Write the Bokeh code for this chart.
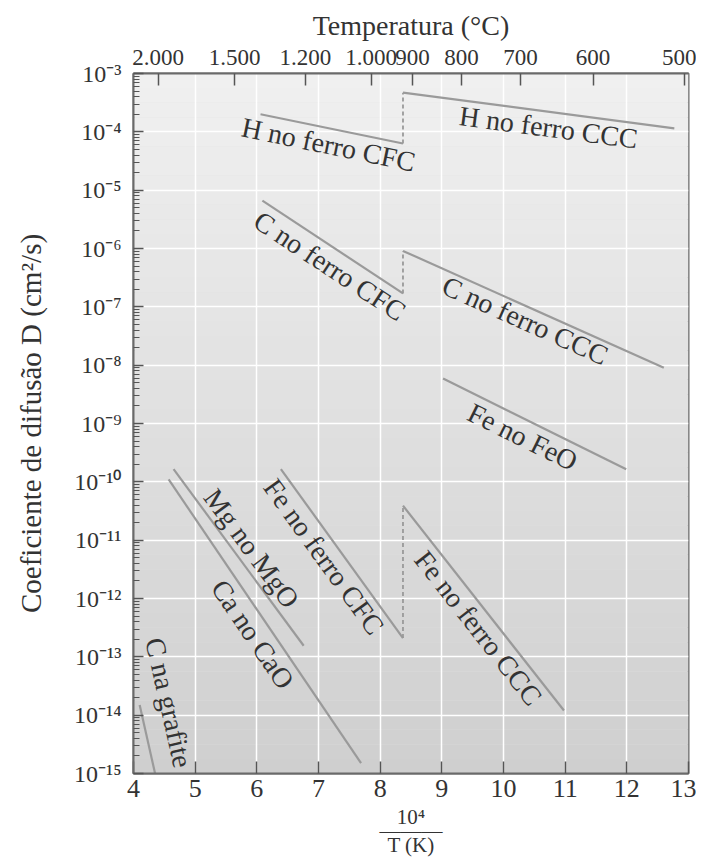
import math
from bokeh.plotting import figure
from bokeh.models import (ColumnDataSource, LinearAxis, FixedTicker, CustomJSTickFormatter,
                          Range1d)
from bokeh.core.properties import value
from bokeh.embed import file_html
from bokeh.resources import INLINE

# ---- data (x = 10^4 / T(K), D in cm^2/s) ----
series_names = ["H no ferro CFC", "H no ferro CCC", "C no ferro CFC", "C no ferro CCC",
                "Fe no FeO", "Fe no ferro CFC", "Fe no ferro CCC", "Mg no MgO",
                "Ca no CaO", "C na grafite"]
x_start = [6.06, 8.37, 6.09, 8.37, 9.02, 6.39, 8.37, 4.65, 4.57, 4.10]
x_end = [8.37, 12.77, 8.37, 12.60, 11.99, 8.37, 10.98, 6.76, 7.69, 4.35]
d_start = [2.0e-4, 4.7e-4, 6.6e-6, 9.1e-7, 5.9e-9, 1.65e-10, 3.9e-11, 1.65e-10, 1.1e-10, 1.5e-14]
d_end = [6.3e-5, 1.15e-4, 1.7e-7, 9.0e-9, 1.65e-10, 2.1e-13, 1.2e-14, 1.55e-13, 1.5e-15, 1.0e-15]

# CFC -> CCC transitions (index of CFC series, index of CCC series)
transitions = [(0, 1), (2, 3), (5, 6)]

# top axis: temperatures in Celsius
temp_c = [2000, 1500, 1200, 1000, 900, 800, 700, 600, 500]
temp_labels = ["2.000", "1.500", "1.200", "1.000", "900", "800", "700", "600", "500"]

# bottom axis ticks and left axis decades
x_ticks = [4, 5, 6, 7, 8, 9, 10, 11, 12, 13]
y_exponents = list(range(-15, -2))

# ---- styling ----
FW, FH = 555, 700
X0, X1 = 4, 13
LOG0, LOG1 = -15, -3
SERIF = "Liberation Serif"
TXT = "#333333"
LINE = "#9a9a9a"
# label placement relative to line midpoint (px): perpendicular, along line
label_perp = [16, 15.5, 17.5, 13.5, 17, 16.4, 16.3, -15.8, 17.2, -29]
label_along = [0, 12, 8, -3, -5, -8, 12.6, 0.4, 4, -31]

p = figure(frame_width=FW, frame_height=FH,
           x_range=Range1d(X0, X1), y_range=Range1d(10.0 ** LOG0, 10.0 ** LOG1),
           y_axis_type="log", output_backend="svg", toolbar_location=None,
           min_border_left=133, min_border_right=8, min_border_top=73, min_border_bottom=80,
           background_fill_color="#e0e0e0", border_fill_color="white",
           outline_line_color="#6a6a6a", outline_line_width=2)

# background gradient (light at top, darker at bottom)
nb = 48
bands_b, bands_t, bands_c = [], [], []
for i in range(nb):
    lo = LOG0 + (LOG1 - LOG0) * i / nb
    hi = LOG0 + (LOG1 - LOG0) * (i + 1) / nb
    f = (i + 0.5) / nb
    g = int(round(0xcf + (0xf0 - 0xcf) * f))
    bands_b.append(10.0 ** lo)
    bands_t.append(10.0 ** hi)
    bands_c.append("#%02x%02x%02x" % (g, g, g))
p.quad(left=X0, right=X1, bottom=bands_b, top=bands_t, fill_color=bands_c,
       line_color=None, level="image")

# grid
p.xgrid.grid_line_color = "white"
p.xgrid.grid_line_width = 1.5
p.ygrid.grid_line_color = "white"
p.ygrid.grid_line_width = 1.5

# series lines
p.multi_line(xs=[[a, b] for a, b in zip(x_start, x_end)],
             ys=[[a, b] for a, b in zip(d_start, d_end)],
             line_color=LINE, line_width=2.2)

# dashed transitions
p.segment(x0=[x_start[j] for i, j in transitions], y0=[d_end[i] for i, j in transitions],
          x1=[x_start[j] for i, j in transitions], y1=[d_start[j] for i, j in transitions],
          line_color=LINE, line_width=1.8, line_dash="4 3")

# rotated labels
px_x = FW / (X1 - X0)
px_dec = FH / (LOG1 - LOG0)
lx, ly, la, lox, loy = [], [], [], [], []
for i in range(len(series_names)):
    l0, l1 = math.log10(d_start[i]), math.log10(d_end[i])
    lx.append((x_start[i] + x_end[i]) / 2)
    ly.append(10.0 ** ((l0 + l1) / 2))
    dx = (x_end[i] - x_start[i]) * px_x
    dy_up = (l1 - l0) * px_dec
    L = math.hypot(dx, dy_up)
    ux, uyd = dx / L, -dy_up / L
    nx, ny = -uyd, ux
    la.append(math.atan2(dy_up, dx))
    lox.append(label_perp[i] * nx + label_along[i] * ux)
    loy.append(label_perp[i] * ny + label_along[i] * uyd)
src = ColumnDataSource(dict(x=lx, y=ly, text=series_names, angle=la, xo=lox, yo=loy))
p.text(x="x", y="y", text="text", angle="angle", x_offset="xo", y_offset="yo", source=src,
       text_font=value(SERIF), text_font_size=value("28px"), text_color=TXT,
       text_align="center", text_baseline="middle")

# left axis
ya = p.yaxis[0]
ya.ticker = FixedTicker(ticks=[10.0 ** e for e in y_exponents],
                        minor_ticks=[m * 10.0 ** e for e in y_exponents[:-1] for m in range(2, 10)])
ya.formatter = CustomJSTickFormatter(code="""
const sup = {'-':'\u207b','0':'\u2070','1':'\u00b9','2':'\u00b2','3':'\u00b3','4':'\u2074',
             '5':'\u2075','6':'\u2076','7':'\u2077','8':'\u2078','9':'\u2079'};
const e = Math.round(Math.log10(tick));
return '10' + String(e).split('').map(c => sup[c]).join('');
""")
ya.axis_label = "Coeficiente de difusão D (cm²/s)"

# bottom axis
xa = p.xaxis[0]
xa.ticker = FixedTicker(ticks=x_ticks)
xa.axis_label = "10\u2074\n\u2014\u2014\u2014\nT (K)"

# top axis
top_ticks = [1e4 / (t + 273.15) for t in temp_c]
ta = LinearAxis(ticker=FixedTicker(ticks=top_ticks),
                formatter=CustomJSTickFormatter(args=dict(tk=top_ticks, lb=temp_labels), code="""
let best = 0;
for (let i = 0; i < tk.length; i++) { if (Math.abs(tk[i] - tick) < Math.abs(tk[best] - tick)) best = i; }
return lb[best];
"""),
                axis_label="Temperatura (°C)")
p.add_layout(ta, "above")

for ax in (ya, xa, ta):
    ax.axis_line_color = "#6a6a6a"
    ax.axis_line_width = 2
    ax.major_tick_line_color = "#555555"
    ax.major_tick_line_width = 1.5
    ax.major_tick_out = 0
    ax.major_label_text_font = SERIF
    ax.major_label_text_color = TXT
    ax.axis_label_text_font = SERIF
    ax.axis_label_text_color = TXT
    ax.axis_label_text_font_style = "normal"

ya.major_tick_in = 10
ya.minor_tick_in = 6
ya.minor_tick_out = 0
ya.minor_tick_line_color = "#555555"
ya.major_label_text_font_size = "24px"
ya.major_label_standoff = 12
ya.axis_label_text_font_size = "29px"
ya.axis_label_standoff = 24

xa.major_tick_in = 12
xa.minor_tick_line_color = None
xa.major_label_text_font_size = "26px"
xa.major_label_standoff = 6
xa.axis_label_text_font_size = "21px"
xa.axis_label_text_line_height = 0.6
xa.axis_label_standoff = 5

ta.major_tick_in = 12
ta.minor_tick_line_color = None
ta.major_label_text_font_size = "23px"
ta.major_label_standoff = 9
ta.axis_label_text_font_size = "28px"
ta.axis_label_standoff = 6

open("out.html", "w").write(file_html(p, INLINE))
